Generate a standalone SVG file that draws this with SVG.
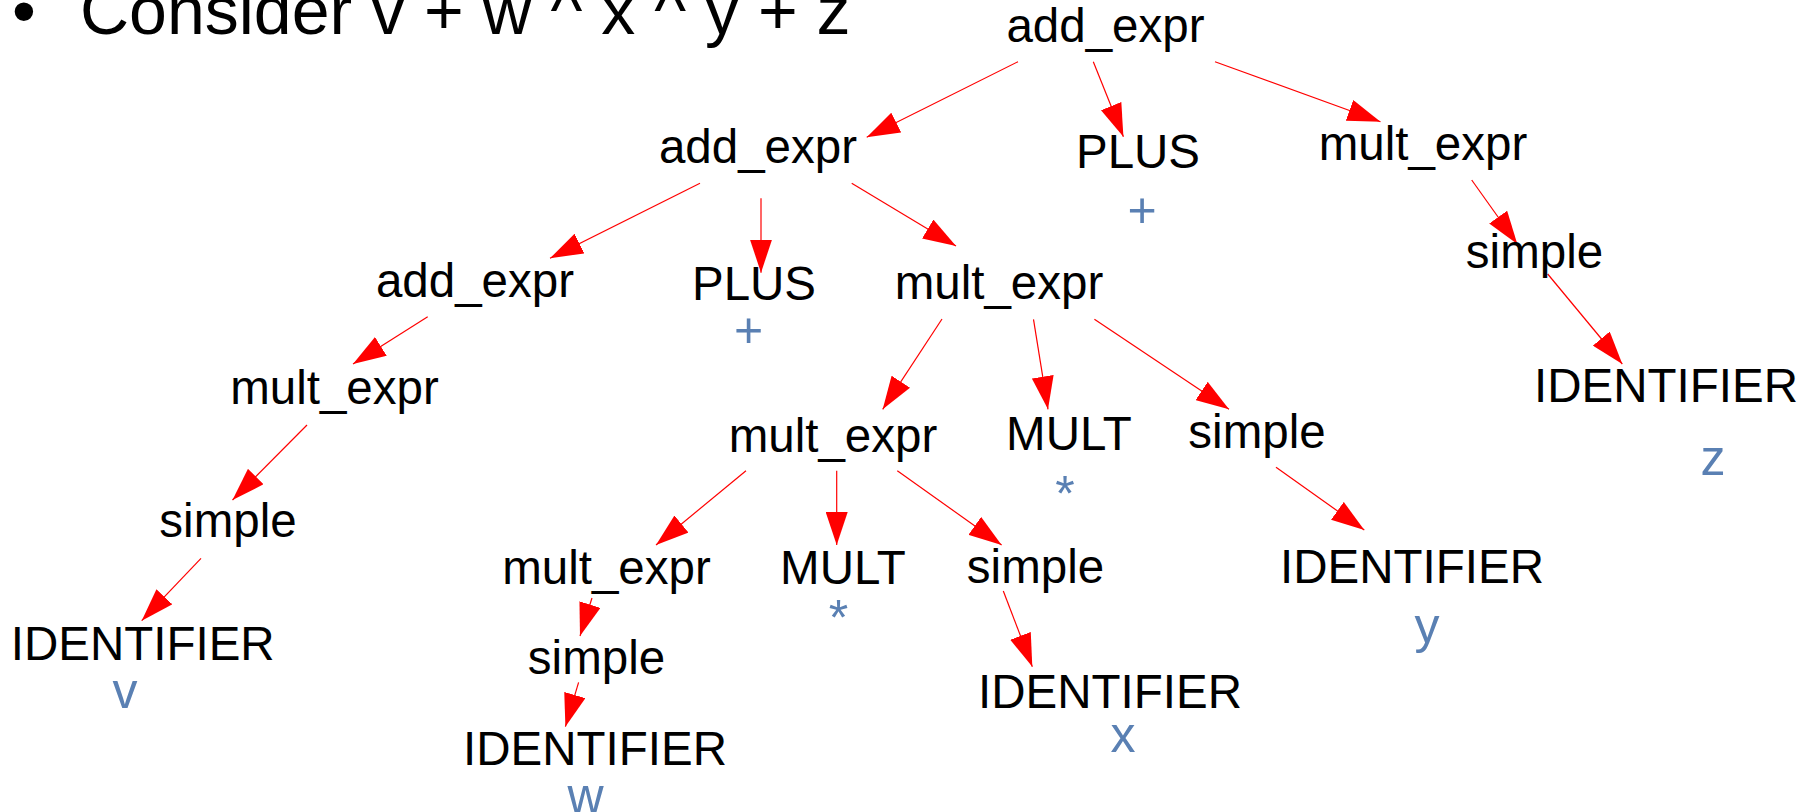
<svg xmlns="http://www.w3.org/2000/svg" width="1810" height="812" viewBox="0 0 1810 812">
  <style>
    .title { font-family: "Liberation Sans", Arial, sans-serif; font-size: 68px; fill: #000; }
    .lbl { font-family: "Liberation Sans", Arial, sans-serif; font-size: 47.5px; fill: #000; text-anchor: middle; }
    .tok { font-family: "Liberation Sans", Arial, sans-serif; font-size: 50px; fill: #5a80b3; text-anchor: middle; }
    .edge { stroke: #ff0000; stroke-width: 1.2; fill: none; marker-end: url(#arrow); }
  </style>
  <defs>
    <marker id="arrow" markerUnits="userSpaceOnUse" viewBox="0 0 33 22" markerWidth="33" markerHeight="22" refX="33" refY="11" orient="auto">
      <path d="M0,0 L33,11 L0,22 Z" fill="#ff0000"/>
    </marker>
  </defs>
  <rect width="1810" height="812" fill="#ffffff"/>

  <g id="heading">
    <text class="title" x="12" y="34">•</text>
    <text class="title" x="80" y="34">Consider v + w ^ x ^ y + z</text>
  </g>

  <!-- parse tree edges, parent to child -->
  <g id="connectors">
    <line class="edge" x1="1018" y1="61.7" x2="866.7" y2="137.3"/>
    <line class="edge" x1="1093.3" y1="61.7" x2="1123.4" y2="136.7"/>
    <line class="edge" x1="1215" y1="61.7" x2="1380.5" y2="121.7"/>
    <line class="edge" x1="700" y1="183.3" x2="550" y2="258.3"/>
    <line class="edge" x1="761" y1="198.3" x2="761" y2="272.7"/>
    <line class="edge" x1="851.7" y1="183.3" x2="956" y2="246"/>
    <line class="edge" x1="427.7" y1="316.7" x2="353" y2="364"/>
    <line class="edge" x1="307" y1="425" x2="232.5" y2="500"/>
    <line class="edge" x1="201" y1="558.3" x2="141.7" y2="620.7"/>
    <line class="edge" x1="942" y1="319" x2="882.7" y2="409.3"/>
    <line class="edge" x1="1033.5" y1="319.3" x2="1048" y2="409.3"/>
    <line class="edge" x1="1094.4" y1="319.3" x2="1229" y2="409.3"/>
    <line class="edge" x1="746" y1="470.7" x2="656" y2="545"/>
    <line class="edge" x1="836.7" y1="470.7" x2="836.7" y2="545"/>
    <line class="edge" x1="897.3" y1="470.7" x2="1001.6" y2="545"/>
    <line class="edge" x1="1276" y1="467.3" x2="1364.3" y2="530"/>
    <line class="edge" x1="1547.7" y1="274" x2="1622.3" y2="364"/>
    <line class="edge" x1="1471.7" y1="180" x2="1517.3" y2="244"/>
    <line class="edge" x1="1003.3" y1="591" x2="1032.3" y2="666.7"/>
    <line class="edge" x1="592" y1="598" x2="580" y2="636"/>
    <line class="edge" x1="578.6" y1="682.3" x2="565.4" y2="726.7"/>
  </g>

  <!-- tree nodes -->
  <g id="n-root"><text class="lbl" x="1105.5" y="42">add_expr</text></g>
  <g id="n-plus-a"><text class="lbl" x="1138" y="168">PLUS</text><text class="tok" x="1142" y="227">+</text></g>
  <g id="n-mult-r"><text class="lbl" x="1423" y="160">mult_expr</text></g>
  <g id="n-simple-z"><text class="lbl" x="1534.5" y="268">simple</text></g>
  <g id="n-id-z"><text class="lbl" x="1666" y="401.5">IDENTIFIER</text><text class="tok" x="1713" y="475">z</text></g>

  <g id="n-add-b"><text class="lbl" x="758" y="163">add_expr</text></g>
  <g id="n-plus-b"><text class="lbl" x="754" y="300">PLUS</text><text class="tok" x="748.5" y="347">+</text></g>
  <g id="n-mult-b"><text class="lbl" x="999" y="299">mult_expr</text></g>

  <g id="n-add-c"><text class="lbl" x="475" y="297">add_expr</text></g>
  <g id="n-mult-c"><text class="lbl" x="334.5" y="404">mult_expr</text></g>
  <g id="n-simple-v"><text class="lbl" x="228" y="537">simple</text></g>
  <g id="n-id-v"><text class="lbl" x="142.7" y="660">IDENTIFIER</text><text class="tok" x="125" y="708">v</text></g>

  <g id="n-mult-d"><text class="lbl" x="833" y="451.5">mult_expr</text></g>
  <g id="n-op-d"><text class="lbl" x="1069" y="450">MULT</text><text class="tok" x="1065" y="511">*</text></g>
  <g id="n-simple-y"><text class="lbl" x="1257" y="448">simple</text></g>
  <g id="n-id-y"><text class="lbl" x="1412" y="583">IDENTIFIER</text><text class="tok" x="1427" y="643">y</text></g>

  <g id="n-mult-e"><text class="lbl" x="606.5" y="584">mult_expr</text></g>
  <g id="n-op-e"><text class="lbl" x="843" y="584">MULT</text><text class="tok" x="838.5" y="635">*</text></g>
  <g id="n-simple-x"><text class="lbl" x="1035.5" y="583">simple</text></g>
  <g id="n-id-x"><text class="lbl" x="1110" y="707.7">IDENTIFIER</text><text class="tok" x="1123" y="752">x</text></g>

  <g id="n-simple-w"><text class="lbl" x="596.5" y="674">simple</text></g>
  <g id="n-id-w"><text class="lbl" x="595" y="765">IDENTIFIER</text><text class="tok" x="585.6" y="813">w</text></g>
</svg>
